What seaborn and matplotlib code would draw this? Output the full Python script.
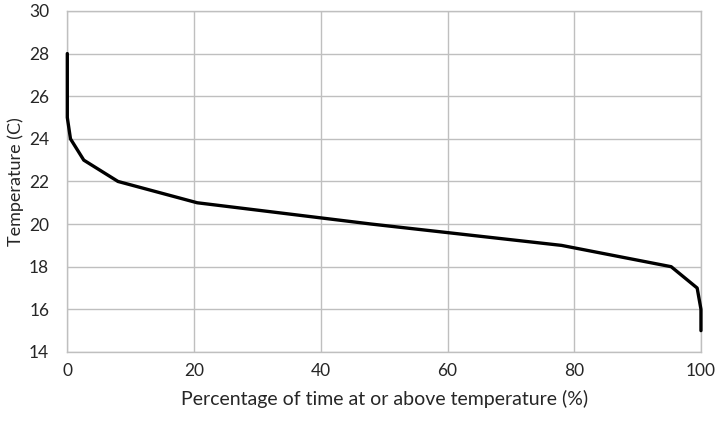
import seaborn as sns
import matplotlib.pyplot as plt
import pandas as pd

# 온도 지속 곡선
pct_time = [0, 0, 0.5, 2.6, 8, 20.5, 48, 78, 95.3, 99.4, 100, 100]
temperature = [28, 25, 24, 23, 22, 21, 20, 19, 18, 17, 16, 15]

df = pd.DataFrame({'pct': pct_time, 'temp': temperature})

sns.set_style('white')
plt.rcParams['font.family'] = ['Lato', 'DejaVu Sans']

fig = plt.figure(figsize=(7.16, 4.21), dpi=100)
ax = fig.add_axes([0.094, 0.164, 0.885, 0.81])

# estimator=None 로 같은 x 값도 그대로 그림
sns.lineplot(data=df, x='pct', y='temp', sort=False, estimator=None, color='black',
             linewidth=2.4, clip_on=False, zorder=5, ax=ax)

ax.set_xlim(0, 100)
ax.set_ylim(14, 30)
ax.set_xticks(range(0, 101, 20))
ax.set_yticks(range(14, 31, 2))
ax.grid(True, color='#bfbfbf', linewidth=1)
for s in ax.spines.values():
    s.set_color('#bfbfbf')
    s.set_linewidth(1)
ax.tick_params(length=0, labelsize=12.5)
ax.tick_params(axis='x', pad=8)
ax.tick_params(axis='y', pad=13)
ax.set_xlabel('Percentage of time at or above temperature (%)', fontsize=14, labelpad=8)
ax.set_ylabel('Temperature (C)', fontsize=13, labelpad=4)

fig.savefig('out.png', dpi=100)
